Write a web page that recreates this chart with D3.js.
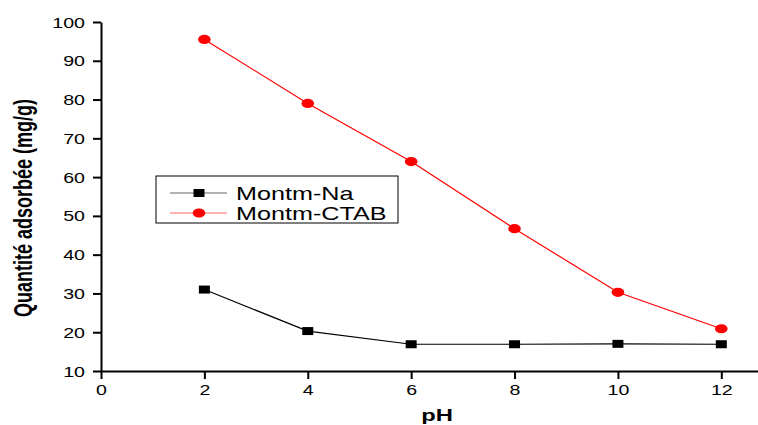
<!DOCTYPE html>
<html>
<head>
<meta charset="utf-8">
<script src="https://cdn.jsdelivr.net/npm/d3@7"></script>
<style>
  html, body { margin: 0; padding: 0; background: #fff; }
  svg { display: block; }
  text { font-family: "Liberation Sans", Arial, sans-serif; fill: #000; }
</style>
</head>
<body>
<svg id="chart" width="758" height="425"></svg>
<script>
// pH of the solution
const phValues = [2, 4, 6, 8, 10, 12];
// adsorbed quantity (mg/g) for each clay
const naValues = [31.0, 20.3, 16.9, 16.9, 17.0, 16.9];
const ctabValues = [95.5, 79.0, 64.0, 46.7, 30.3, 20.9];
const seriesNames = ["Montm-Na", "Montm-CTAB"];
const xTicks = [0, 2, 4, 6, 8, 10, 12];
const yTicks = [10, 20, 30, 40, 50, 60, 70, 80, 90, 100];

const STRETCH = 1.4; // horizontal glyph stretch used for all text and markers

const svg = d3.select("#chart");
const x = d3.scaleLinear().domain([0, 13]).range([101, 773]);
const y = d3.scaleLinear().domain([10, 100]).range([371, 22]);

// x axis
const gx = svg.append("g").attr("transform", "translate(0,371)")
  .call(d3.axisBottom(x).tickValues(xTicks).tickSize(8).tickSizeOuter(0).tickFormat(d3.format("d")));
gx.select(".domain").attr("stroke", "#000").attr("stroke-width", 2);
gx.selectAll(".tick line").attr("stroke", "#000").attr("stroke-width", 2);
gx.selectAll(".tick text")
  .attr("y", 0).attr("dy", null)
  .attr("transform", "translate(0,24) scale(" + STRETCH + ",1)")
  .style("font-size", "14px");

// y axis
const gy = svg.append("g").attr("transform", "translate(101,0)")
  .call(d3.axisLeft(y).tickValues(yTicks).tickSize(8).tickSizeOuter(0).tickFormat(d3.format("d")));
gy.select(".domain").attr("stroke", "#000").attr("stroke-width", 2);
gy.selectAll(".tick line").attr("stroke", "#000").attr("stroke-width", 2);
gy.selectAll(".tick text")
  .attr("x", 0).attr("dy", null)
  .attr("transform", "translate(-16,5) scale(" + STRETCH + ",1)")
  .style("font-size", "14px");

// axis titles
svg.append("text")
  .attr("transform", "translate(32,208) scale(" + STRETCH + ",1) rotate(-90)")
  .attr("text-anchor", "middle")
  .style("font-size", "18px").style("font-weight", "bold")
  .text("Quantité adsorbée (mg/g)");
svg.append("text")
  .attr("transform", "translate(437,421) scale(" + STRETCH + ",1)")
  .attr("text-anchor", "middle")
  .style("font-size", "17px").style("font-weight", "bold")
  .text("pH");

const line = d3.line().x(d => x(d[0])).y(d => y(d[1]));
const naPts = phValues.map((p, i) => [p, naValues[i]]);
const ctabPts = phValues.map((p, i) => [p, ctabValues[i]]);

// Montm-Na
svg.append("path").datum(naPts).attr("d", line)
  .attr("fill", "none").attr("stroke", "#000").attr("stroke-width", 1.2);
svg.selectAll(".na").data(naPts).enter().append("rect")
  .attr("x", d => x(d[0]) - 5.5).attr("y", d => y(d[1]) - 4)
  .attr("width", 11).attr("height", 8).attr("fill", "#000");

// Montm-CTAB
svg.append("path").datum(ctabPts).attr("d", line)
  .attr("fill", "none").attr("stroke", "#ff0000").attr("stroke-width", 1.2);
svg.selectAll(".ctab").data(ctabPts).enter().append("ellipse")
  .attr("cx", d => x(d[0])).attr("cy", d => y(d[1]))
  .attr("rx", 6.3).attr("ry", 4.6).attr("fill", "#ff0000");

// legend
const lg = svg.append("g");
lg.append("rect").attr("x", 156).attr("y", 176).attr("width", 242).attr("height", 47)
  .attr("fill", "#fff").attr("stroke", "#000").attr("stroke-width", 1);
const rowY = [193, 213];
const colors = ["#000", "#ff0000"];
seriesNames.forEach((name, i) => {
  lg.append("line").attr("x1", 170).attr("x2", 227).attr("y1", rowY[i]).attr("y2", rowY[i])
    .attr("stroke", colors[i]).attr("stroke-width", 1.2).attr("stroke-opacity", 0.6);
  if (i === 0) {
    lg.append("rect").attr("x", 193.5).attr("y", rowY[i] - 4).attr("width", 11).attr("height", 8).attr("fill", "#000");
  } else {
    lg.append("ellipse").attr("cx", 199).attr("cy", rowY[i]).attr("rx", 6.3).attr("ry", 4.6).attr("fill", "#ff0000");
  }
  lg.append("text")
    .attr("transform", "translate(236," + (rowY[i] + 6.5) + ") scale(" + STRETCH + ",1)")
    .style("font-size", "18px")
    .text(name);
});
</script>
</body>
</html>
